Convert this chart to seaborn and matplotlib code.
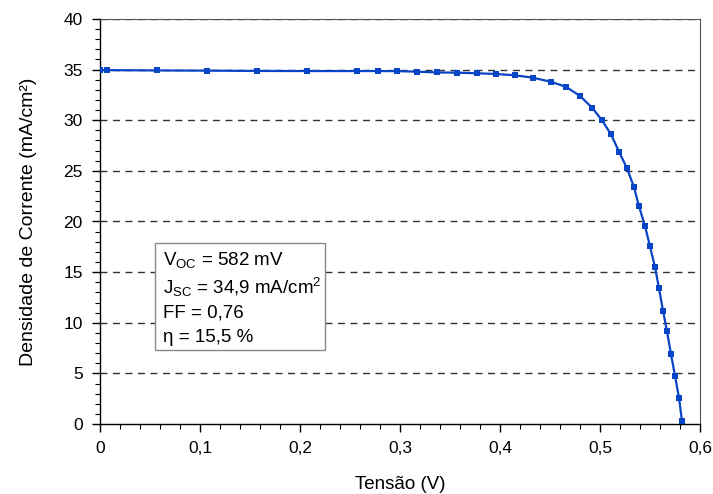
import numpy as np
import pandas as pd
import matplotlib
matplotlib.use('Agg')
import matplotlib.pyplot as plt
from matplotlib.ticker import MultipleLocator, FuncFormatter
from matplotlib.patches import Rectangle
import seaborn as sns

# J-V curve
tensao = [0.0, 0.0067, 0.057, 0.107, 0.157, 0.207, 0.257, 0.278, 0.297, 0.317,
          0.337, 0.357, 0.377, 0.396, 0.415, 0.433, 0.451, 0.466, 0.480, 0.492,
          0.502, 0.511, 0.519, 0.527, 0.534, 0.539, 0.545, 0.550, 0.555, 0.559,
          0.563, 0.567, 0.571, 0.575, 0.579, 0.582]
densidade = [34.95, 34.95, 34.92, 34.9, 34.87, 34.86, 34.86, 34.86, 34.85, 34.8,
             34.72, 34.7, 34.64, 34.57, 34.44, 34.2, 33.8, 33.3, 32.4, 31.25,
             30.0, 28.6, 26.9, 25.25, 23.4, 21.5, 19.55, 17.55, 15.5, 13.4,
             11.2, 9.15, 6.9, 4.75, 2.6, 0.27]

info_lines = [r'V$_{\mathrm{OC}}$ = 582 mV',
              r'J$_{\mathrm{SC}}$ = 34,9 mA/cm$^{2}$',
              'FF = 0,76',
              'η = 15,5 %']

sns.set_style('ticks')
plt.rcParams['font.family'] = ['Liberation Sans', 'DejaVu Sans']
plt.rcParams['mathtext.fontset'] = 'custom'
plt.rcParams['mathtext.rm'] = 'Liberation Sans'
plt.rcParams['mathtext.it'] = 'Liberation Sans'
plt.rcParams['text.color'] = 'black'
plt.rcParams['axes.labelcolor'] = 'black'

df = pd.DataFrame({'V': tensao, 'J': densidade})

fig = plt.figure(figsize=(7.13, 4.94), dpi=100)
ax = fig.add_axes([100 / 713, 1 - 424 / 494, 600 / 713, 405 / 494])

# dashed horizontal grid
for yv in range(5, 45, 5):
    ax.axhline(yv, color='#333333', lw=1.0, ls=(0, (5, 4)), zorder=1)

sns.lineplot(data=df, x='V', y='J', ax=ax, color='#0745c6', linewidth=1.6,
             marker='s', markersize=4.5, markeredgewidth=0, zorder=3)

ax.set_xlim(0, 0.6)
ax.set_ylim(0, 40)
ax.xaxis.set_major_locator(MultipleLocator(0.1))
ax.xaxis.set_minor_locator(MultipleLocator(0.02))
ax.yaxis.set_major_locator(MultipleLocator(5))
ax.yaxis.set_minor_locator(MultipleLocator(1))
ax.xaxis.set_major_formatter(FuncFormatter(lambda v, p: ('%g' % round(v, 2)).replace('.', ',')))
ax.tick_params(axis='both', which='major', direction='out', length=6, width=1,
               labelsize=12.5, colors='black', pad=6.5)
ax.tick_params(axis='both', which='minor', direction='out', length=3.5, width=0.8,
               colors='black')

for s in ['left', 'bottom']:
    ax.spines[s].set_color('black')
    ax.spines[s].set_linewidth(1.0)
for s in ['top', 'right']:
    ax.spines[s].set_color('#555555')
    ax.spines[s].set_linewidth(0.8)

ax.set_xlabel('Tensão (V)', fontsize=13.5, labelpad=14)
ax.set_ylabel('Densidade de Corrente (mA/cm²)', fontsize=14, labelpad=19)

# parameter box
ax.add_patch(Rectangle((55 / 600, 74 / 405), 170 / 600, 107 / 405,
                       transform=ax.transAxes, facecolor='white',
                       edgecolor='#888888', lw=1.0, zorder=4))
ys = [260, 287, 313, 338]
for txt, yp in zip(info_lines, ys):
    ax.text(63 / 600, (424 - yp) / 405, txt, transform=ax.transAxes,
            fontsize=13.5, va='center', ha='left', zorder=5)

fig.savefig('out.png', dpi=100)
